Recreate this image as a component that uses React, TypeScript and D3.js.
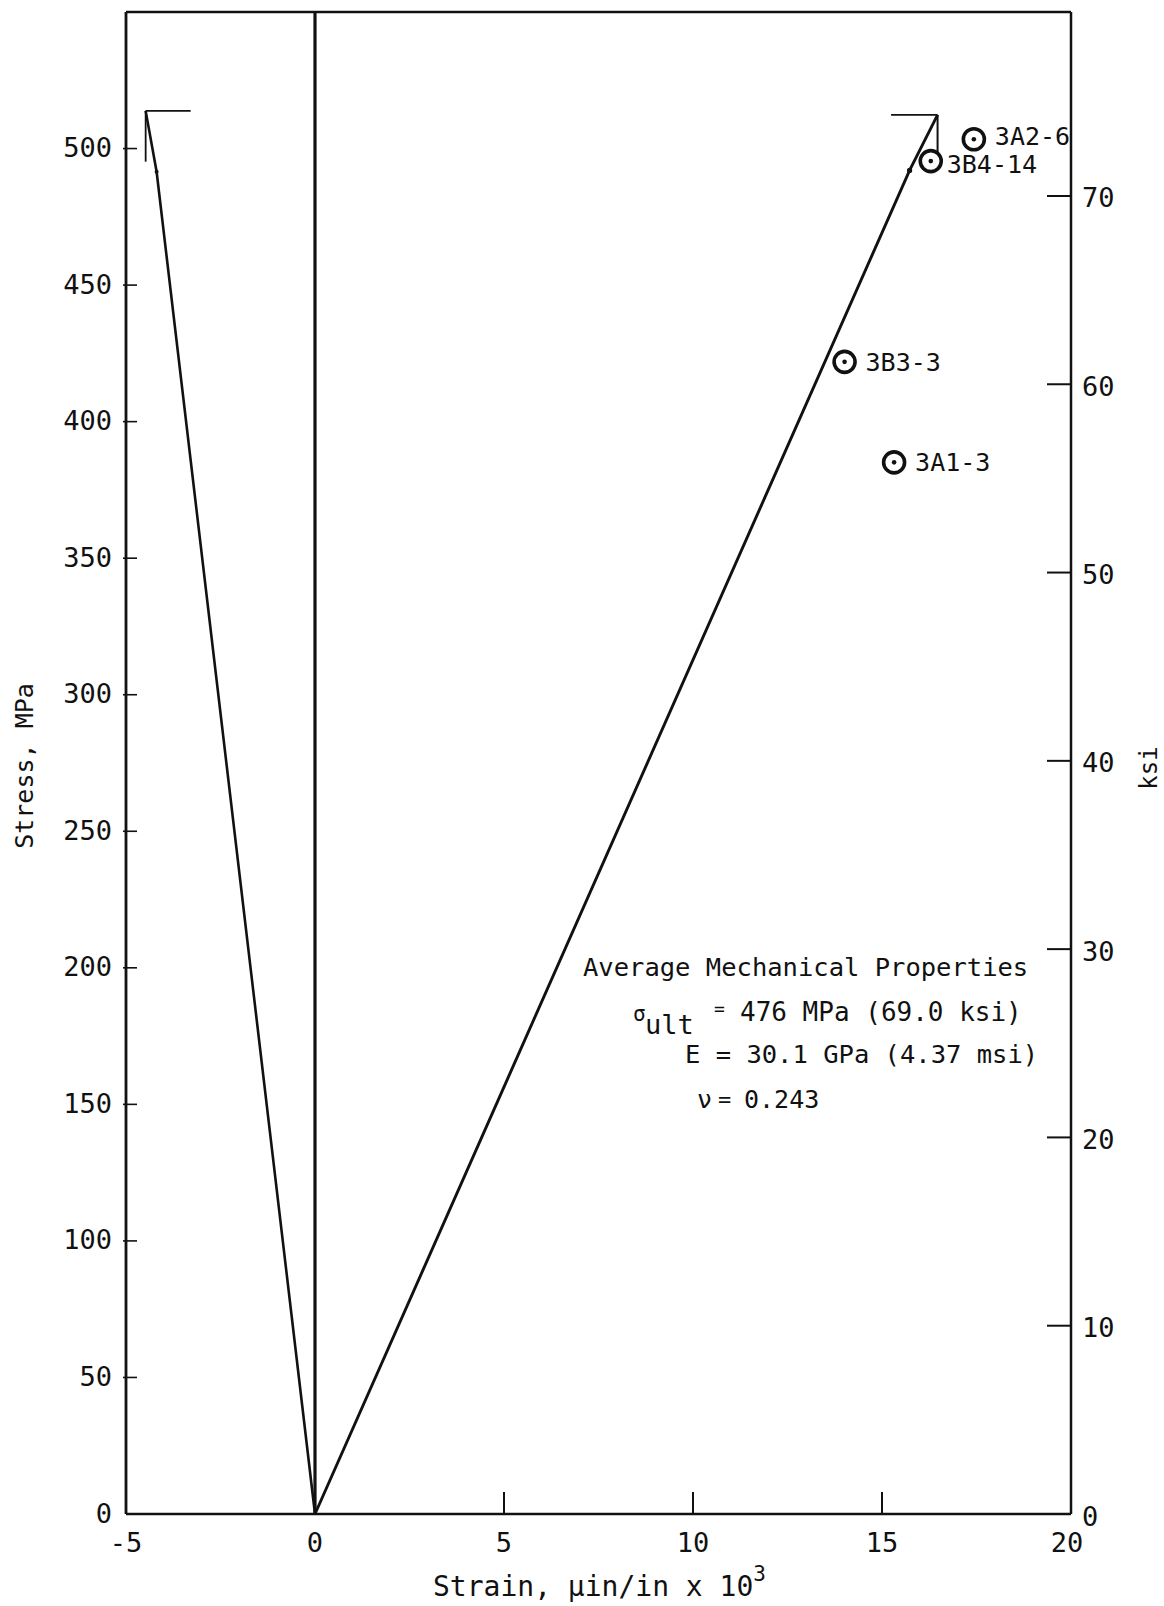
import React from "react";
import * as d3 from "d3";

const X_TICKS = [-5, 0, 5, 10, 15, 20];
const MPA_TICKS = [0, 50, 100, 150, 200, 250, 300, 350, 400, 450, 500];
const KSI_TICKS = [0, 10, 20, 30, 40, 50, 60, 70];

// longitudinal strain curve (right) and transverse strain curve (left)
const LONG_STRAIN = [0, 15.73, 16.47];
const LONG_STRESS = [0, 492, 512.3];
const LONG_DROP_STRESS = 497;
const LONG_FLAG_START = 15.24;

const TRANS_STRAIN = [0, -4.19, -4.48];
const TRANS_STRESS = [0, 491.5, 513.8];
const TRANS_DROP_STRESS = 495.2;
const TRANS_FLAG_END = -3.29;

const SPECIMENS = ["3A2-6", "3B4-14", "3B3-3", "3A1-3"];
const SPEC_STRAIN = [17.43, 16.29, 14.01, 15.32];
const SPEC_STRESS = [503.4, 495.4, 421.9, 385.1];

const W = 1164;
const H = 1606;
const FONT = "'DejaVu Sans Mono', monospace";
const MPA_PER_KSI = 6.894757;

export default function App() {
  const x = d3.scaleLinear().domain([-5, 20]).range([126, 1071]);
  const y = d3.scaleLinear().domain([0, 550]).range([1514, 12]);
  const yk = d3.scaleLinear().domain([0, 550 / MPA_PER_KSI]).range([1514, 12]);
  const line = d3
    .line<[number, number]>()
    .x((d) => x(d[0]))
    .y((d) => y(d[1]));

  const longPts: [number, number][] = LONG_STRAIN.map((s, i) => [s, LONG_STRESS[i]]);
  const transPts: [number, number][] = TRANS_STRAIN.map((s, i) => [s, TRANS_STRESS[i]]);
  const lTop = longPts[longPts.length - 1];
  const tTop = transPts[transPts.length - 1];

  const ink = "#111";

  const labelDy = (name: string) => (name === "3A2-6" ? 6 : name === "3B4-14" ? 12 : 9);
  const labelDx = (name: string) => (name === "3B4-14" ? 16 : 21);

  return (
    <svg
      width={W}
      height={H}
      style={{ position: "absolute", left: 0, top: 0, background: "#fff" }}
      fontFamily={FONT}
    >
      <rect x={0} y={0} width={W} height={H} fill="#fff" />
      {/* frame */}
      <line x1={x(-5)} x2={x(20)} y1={y(550)} y2={y(550)} stroke={ink} strokeWidth={2.5} />
      <line x1={x(-5)} x2={x(20)} y1={y(0)} y2={y(0)} stroke={ink} strokeWidth={2.5} />
      <line x1={x(-5)} x2={x(-5)} y1={y(0)} y2={y(550)} stroke={ink} strokeWidth={2.8} />
      <line x1={x(20)} x2={x(20)} y1={y(0)} y2={y(550)} stroke={ink} strokeWidth={2.5} />
      {/* zero strain line */}
      <line x1={x(0)} x2={x(0)} y1={y(0)} y2={y(550)} stroke={ink} strokeWidth={3.2} />

      {/* bottom ticks */}
      {X_TICKS.map((t) => (
        <g key={"xt" + t}>
          {t > 0 && t < 20 && (
            <line x1={x(t)} x2={x(t)} y1={y(0)} y2={y(0) - 22} stroke={ink} strokeWidth={2} />
          )}
          <text x={x(t) + (t === 20 ? -4 : 0)} y={1552} fontSize={27} textAnchor="middle" fill={ink}>
            {t < 0 ? "-" + Math.abs(t) : String(t)}
          </text>
        </g>
      ))}

      {/* left ticks MPa */}
      {MPA_TICKS.map((t) => (
        <g key={"yt" + t}>
          {t > 0 && (
            <line x1={x(-5) - 3} x2={x(-5) + 11} y1={y(t)} y2={y(t)} stroke={ink} strokeWidth={1.6} />
          )}
          <text x={112} y={y(t) + 1} fontSize={27} textAnchor="end" dominantBaseline="middle" fill={ink}>
            {t}
          </text>
        </g>
      ))}

      {/* right ticks ksi */}
      {KSI_TICKS.map((t) => (
        <g key={"kt" + t}>
          {t > 0 && (
            <line x1={x(20) - 24} x2={x(20)} y1={yk(t)} y2={yk(t)} stroke={ink} strokeWidth={2} />
          )}
          <text x={1082} y={yk(t) + 4} fontSize={27} textAnchor="start" dominantBaseline="middle" fill={ink}>
            {t}
          </text>
        </g>
      ))}

      {/* axis titles */}
      <text transform={`translate(33,766) rotate(-90)`} fontSize={25} textAnchor="middle" fill={ink}>
        Stress, MPa
      </text>
      <text transform={`translate(1157,768) rotate(-90)`} fontSize={24} textAnchor="middle" fill={ink}>
        ksi
      </text>
      <text x={433} y={1596} fontSize={28} fill={ink}>
        Strain, μin/in x 10
        <tspan fontSize={21} dy={-15}>
          3
        </tspan>
      </text>

      {/* curves */}
      <path d={line(transPts) || ""} fill="none" stroke={ink} strokeWidth={2.6} />
      <path d={line(longPts) || ""} fill="none" stroke={ink} strokeWidth={2.9} />
      {/* failure drops */}
      <path d={line([tTop, [tTop[0], TRANS_DROP_STRESS]]) || ""} fill="none" stroke={ink} strokeWidth={1.8} />
      <path d={line([lTop, [lTop[0], LONG_DROP_STRESS]]) || ""} fill="none" stroke={ink} strokeWidth={2} />
      {/* flags */}
      <path d={line([tTop, [TRANS_FLAG_END, tTop[1]]]) || ""} fill="none" stroke={ink} strokeWidth={1.8} />
      <path d={line([[LONG_FLAG_START, lTop[1]], lTop]) || ""} fill="none" stroke={ink} strokeWidth={1.8} />
      {/* small marks on curves */}
      <circle cx={x(transPts[1][0])} cy={y(transPts[1][1])} r={2} fill={ink} />
      <circle cx={x(longPts[1][0])} cy={y(longPts[1][1])} r={2.6} fill={ink} />

      {/* specimen points */}
      {SPECIMENS.map((name, i) => {
        const cx = x(SPEC_STRAIN[i]);
        const cy = y(SPEC_STRESS[i]);
        return (
          <g key={name}>
            <circle cx={cx} cy={cy} r={10.5} fill="#fff" stroke={ink} strokeWidth={3.6} />
            <circle cx={cx} cy={cy} r={2.3} fill={ink} />
            <text x={cx + labelDx(name)} y={cy + labelDy(name)} fontSize={25} fill={ink}>
              {name}
            </text>
          </g>
        );
      })}

      {/* annotation */}
      <text x={583} y={976} fontSize={25.5} fill={ink}>
        Average Mechanical Properties
      </text>
      <text x={633} y={1021} fontSize={21} fill={ink}>
        σ
      </text>
      <text x={645} y={1034} fontSize={27} fill={ink}>
        ult
      </text>
      <text x={714} y={1015} fontSize={18} fill={ink}>
        =
      </text>
      <text x={740} y={1021} fontSize={26} fill={ink}>
        476 MPa (69.0 ksi)
      </text>
      <text x={685} y={1063} fontSize={25.5} fill={ink}>
        E = 30.1 GPa (4.37 msi)
      </text>
      <text x={697} y={1108} fontSize={25} fill={ink}>
        ν
      </text>
      <text x={718} y={1107} fontSize={22} fill={ink}>
        =
      </text>
      <text x={744} y={1108} fontSize={25} fill={ink}>
        0.243
      </text>
    </svg>
  );
}
